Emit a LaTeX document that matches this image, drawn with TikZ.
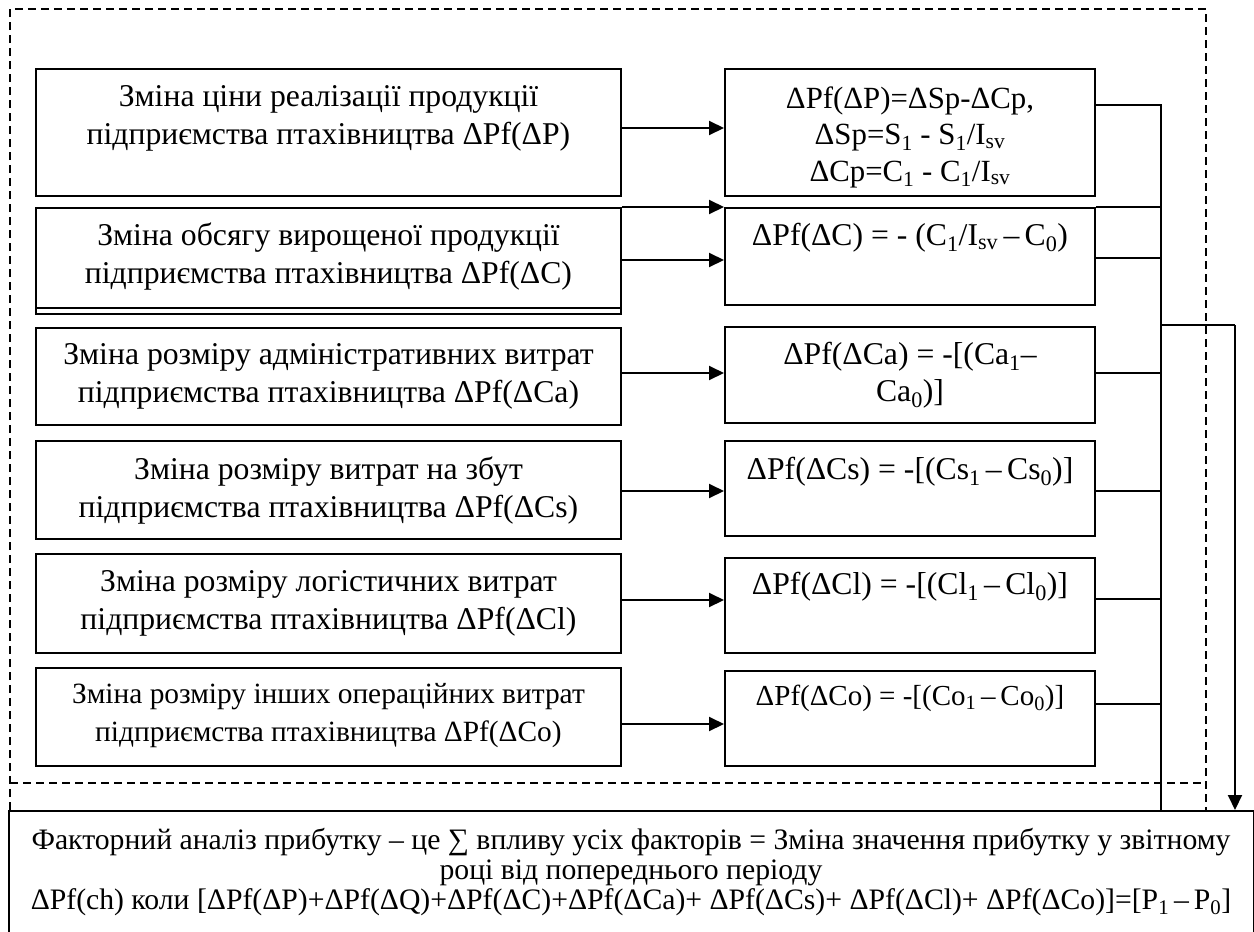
\documentclass[tikz,border=0pt]{standalone}
\usepackage{fontspec}
\setmainfont{Liberation Serif}
\usetikzlibrary{arrows.meta,calc}
\tikzset{
  lbox/.style={draw, line width=2pt, minimum width=585pt, inner sep=0pt, anchor=north west},
  rbox/.style={draw, line width=2pt, minimum width=370pt, inner sep=0pt, anchor=north west},
  txt/.style={font=\fontsize{31.7}{38}\selectfont, align=center, inner sep=0pt},
  rtxt/.style={font=\fontsize{31.7}{36.5}\selectfont, align=center, inner sep=0pt},
  btxt/.style={font=\fontsize{29.7}{30}\selectfont, align=center, inner sep=0pt},
  arr/.style={line width=2pt, -{Triangle[length=15pt,width=14pt]}},
  conn/.style={line width=1.7pt},
  dashline/.style={line width=1.5pt, dash pattern=on 8pt off 5pt},
}
\begin{document}
\begin{tikzpicture}[x=1pt,y=-1pt]
\fill[white] (0,0) rectangle (1254,932);
\clip (0,0) rectangle (1254,932);
% dashed frame
\coordinate (f1) at (10,810);
\coordinate (f2) at (10,9);
\coordinate (f3) at (1206,9);
\coordinate (f4) at (1206,810);
\draw[dashline] (f1) -- (f2) -- (f3) -- (f4);
\draw[dashline] (f1 |- 0,783) -- (f4 |- 0,783);
% left boxes
\node[lbox, minimum height=127pt] (L1) at (35,68) {};
\node[lbox, minimum height=106pt] (L2) at (35,207) {};
\draw[line width=2pt] ([yshift=7pt]L2.south west) -- ([yshift=7pt]L2.south east);
\node[lbox, minimum height=97pt] (L3) at (35,327) {};
\node[lbox, minimum height=98pt] (L4) at (35,440) {};
\node[lbox, minimum height=99pt] (L5) at (35,553) {};
\node[lbox, minimum height=98pt] (L6) at (35,667) {};
\node[txt] at ([yshift=-50pt]L1.north) {Зміна ціни реалізації продукції\\підприємства птахівництва ΔPf(ΔP)};
\node[txt] at ([yshift=-50pt]L2.north) {Зміна обсягу вирощеної продукції\\підприємства птахівництва ΔPf(ΔC)};
\node[txt] at ([yshift=-49pt]L3.north) {Зміна розміру адміністративних витрат\\підприємства птахівництва ΔPf(ΔCa)};
\node[txt] at ([yshift=-51pt]L4.north) {Зміна розміру витрат на збут\\підприємства птахівництва ΔPf(ΔCs)};
\node[txt] at ([yshift=-50pt]L5.north) {Зміна розміру логістичних витрат\\підприємства птахівництва ΔPf(ΔCl)};
\node[txt, font=\fontsize{29.4}{38}\selectfont] at ([yshift=-49pt]L6.north) {Зміна розміру інших операційних витрат\\підприємства птахівництва ΔPf(ΔCo)};
% right boxes
\node[rbox, minimum height=127pt] (R1) at (724,68) {};
\node[rbox, minimum height=97pt] (R2) at (724,207) {};
\node[rbox, minimum height=96pt] (R3) at (724,326) {};
\node[rbox, minimum height=95pt] (R4) at (724,440) {};
\node[rbox, minimum height=95pt] (R5) at (724,557) {};
\node[rbox, minimum height=95pt] (R6) at (724,670) {};
\node[rtxt, font=\fontsize{30.8}{36.5}\selectfont] at ([yshift=-69pt]R1.north) {ΔPf(ΔP)=ΔSp-ΔCp,\\ΔSp=S\textsubscript{1} - S\textsubscript{1}/I\textsubscript{sv}\\ΔCp=C\textsubscript{1} - C\textsubscript{1}/I\textsubscript{sv}};
\node[rtxt] at ([yshift=-31pt]R2.north) {ΔPf(ΔC) = - (C\textsubscript{1}/I\textsubscript{sv}\,–\,C\textsubscript{0})};
\node[rtxt] at ([yshift=-49pt]R3.north) {ΔPf(ΔCa) = -[(Ca\textsubscript{1}–\\Ca\textsubscript{0})]};
\node[rtxt] at ([yshift=-32pt]R4.north) {ΔPf(ΔCs) = -[(Cs\textsubscript{1}\,–\,Cs\textsubscript{0})]};
\node[rtxt] at ([yshift=-30pt]R5.north) {ΔPf(ΔCl) = -[(Cl\textsubscript{1}\,–\,Cl\textsubscript{0})]};
\node[rtxt, font=\fontsize{29}{36.5}\selectfont] at ([yshift=-28pt]R6.north) {ΔPf(ΔCo) = -[(Co\textsubscript{1}\,–\,Co\textsubscript{0})]};
% bottom box
\node[draw, line width=2pt, anchor=north west, minimum width=1245pt, minimum height=140pt, inner sep=0pt] (B) at (8,810) {};
\node[btxt] at (631,872) {Факторний аналіз прибутку – це ∑ впливу усіх факторів = Зміна значення прибутку у звітному\\році від попереднього періоду\\ΔPf(ch) коли [ΔPf(ΔP)+ΔPf(ΔQ)+ΔPf(ΔC)+ΔPf(ΔCa)+ ΔPf(ΔCs)+ ΔPf(ΔCl)+ ΔPf(ΔCo)]=[P\textsubscript{1}\,–\,P\textsubscript{0}]};
% arrows left -> right
\draw[arr] ([yshift=-60pt]L1.north east) -- ([yshift=-60pt]L1.north east -| R1.west);
\draw[arr] (L2.north east) -- (L2.north east -| R2.west);
\draw[arr] ([yshift=-53pt]L2.north east) -- ([yshift=-53pt]L2.north east -| R2.west);
\draw[arr] ([yshift=-46pt]L3.north east) -- ([yshift=-46pt]L3.north east -| R3.west);
\draw[arr] ([yshift=-51pt]L4.north east) -- ([yshift=-51pt]L4.north east -| R4.west);
\draw[arr] ([yshift=-47pt]L5.north east) -- ([yshift=-47pt]L5.north east -| R5.west);
\draw[arr] ([yshift=-57pt]L6.north east) -- ([yshift=-57pt]L6.north east -| R6.west);
% collector
\coordinate (col) at (1161,105);
\coordinate (br) at (1235,325);
\draw[conn] ([yshift=-37pt]R1.north east) -- (col) -- (col |- B.north);
\draw[conn] (R2.north east) -- (R2.north east -| col);
\draw[conn] ([yshift=-51pt]R2.north east) -- ([yshift=-51pt]R2.north east -| col);
\draw[conn] ([yshift=-47pt]R3.north east) -- ([yshift=-47pt]R3.north east -| col);
\draw[conn] ([yshift=-51pt]R4.north east) -- ([yshift=-51pt]R4.north east -| col);
\draw[conn] ([yshift=-42pt]R5.north east) -- ([yshift=-42pt]R5.north east -| col);
\draw[conn] ([yshift=-34pt]R6.north east) -- ([yshift=-34pt]R6.north east -| col);
\draw[conn] (col |- br) -- (br);
\draw[arr] (br) -- (br |- B.north);
\end{tikzpicture}
\end{document}
